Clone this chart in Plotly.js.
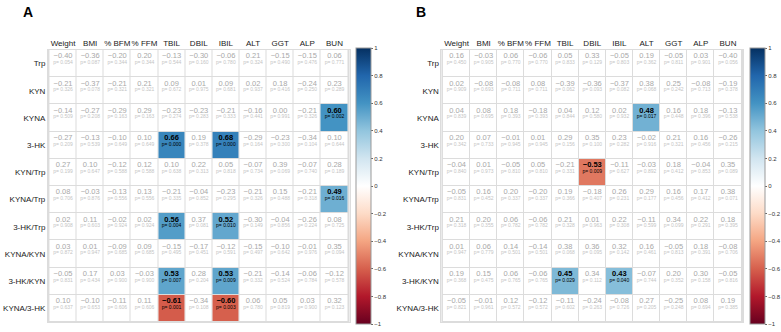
<!DOCTYPE html>
<html><head><meta charset="utf-8">
<script src="https://cdn.plot.ly/plotly-3.0.1.min.js"></script>
<style>html,body{margin:0;padding:0;background:#fff}#chart{width:781px;height:332px}</style>
</head><body><div id="chart"></div><script>
const columns = ['Weight','BMI','% BFM','% FFM','TBIL','DBIL','IBIL','ALT','GGT','ALP','BUN'];
const rows = ['Trp','KYN','KYNA','3-HK','KYN/Trp','KYNA/Trp','3-HK/Trp','KYNA/KYN','3-HK/KYN','KYNA/3-HK'];

const rA = [
 [-0.40,-0.36,-0.20,0.20,-0.13,-0.30,-0.06,0.21,-0.15,-0.15,0.06],
 [-0.21,-0.37,-0.21,0.21,0.09,0.01,0.09,0.02,0.18,-0.24,0.23],
 [-0.14,-0.27,-0.29,0.29,-0.23,-0.23,-0.21,-0.16,0.00,-0.21,0.60],
 [-0.27,-0.13,-0.10,0.10,0.66,0.19,0.68,-0.29,-0.23,-0.34,0.10],
 [0.27,0.10,-0.12,0.12,0.10,0.22,0.05,-0.07,0.39,-0.07,0.28],
 [0.08,-0.03,-0.13,0.13,-0.21,-0.04,-0.23,-0.21,0.15,-0.21,0.49],
 [0.02,0.11,-0.02,0.02,0.56,0.37,0.52,-0.30,-0.04,-0.26,0.08],
 [0.03,0.01,-0.09,0.09,-0.15,-0.17,-0.12,-0.15,-0.10,-0.01,0.35],
 [-0.05,0.17,0.03,-0.03,0.53,0.28,0.53,-0.21,-0.14,-0.06,-0.12],
 [0.10,-0.10,-0.11,0.11,-0.61,-0.34,-0.60,0.06,0.05,0.03,0.32]
];
const pA = [
 [0.054,0.087,0.344,0.344,0.544,0.160,0.780,0.324,0.490,0.476,0.771],
 [0.326,0.078,0.321,0.321,0.672,0.975,0.681,0.937,0.416,0.250,0.289],
 [0.509,0.208,0.163,0.163,0.274,0.283,0.333,0.441,0.991,0.326,0.002],
 [0.209,0.539,0.649,0.649,0.000,0.378,0.000,0.164,0.300,0.104,0.644],
 [0.199,0.647,0.588,0.588,0.638,0.313,0.818,0.734,0.069,0.740,0.189],
 [0.706,0.876,0.556,0.556,0.335,0.852,0.295,0.326,0.488,0.318,0.016],
 [0.908,0.603,0.924,0.924,0.004,0.081,0.010,0.149,0.856,0.224,0.725],
 [0.872,0.947,0.685,0.685,0.495,0.451,0.591,0.497,0.642,0.976,0.094],
 [0.831,0.434,0.900,0.900,0.007,0.204,0.009,0.332,0.524,0.784,0.578],
 [0.637,0.653,0.606,0.606,0.001,0.108,0.003,0.780,0.819,0.900,0.123]
];
const rB = [
 [0.16,-0.03,0.06,-0.06,0.05,0.33,-0.05,0.19,-0.05,0.03,-0.40],
 [0.02,-0.08,-0.08,0.08,-0.39,-0.36,-0.37,0.38,0.25,-0.08,-0.19],
 [0.04,0.08,0.18,-0.18,0.04,0.12,0.02,0.48,0.16,0.18,-0.13],
 [0.20,0.07,-0.01,0.01,0.29,0.35,0.23,-0.02,0.21,0.16,-0.26],
 [-0.04,0.01,-0.05,0.05,-0.21,-0.53,-0.11,-0.03,0.18,-0.04,0.35],
 [-0.05,0.16,0.20,-0.20,0.19,-0.18,0.26,0.29,0.16,0.17,0.38],
 [0.21,0.20,0.06,-0.06,0.21,0.01,0.22,-0.11,0.34,0.22,0.18],
 [0.01,0.06,0.14,-0.14,0.38,0.36,0.32,0.16,-0.05,0.18,-0.08],
 [0.19,0.15,0.06,-0.06,0.45,0.34,0.43,-0.07,0.20,0.30,-0.05],
 [-0.05,-0.01,0.12,-0.12,-0.11,-0.24,-0.08,0.27,-0.25,0.08,0.19]
];
const pB = [
 [0.450,0.905,0.770,0.770,0.833,0.129,0.803,0.362,0.811,0.901,0.056],
 [0.909,0.693,0.711,0.711,0.062,0.093,0.082,0.068,0.242,0.713,0.378],
 [0.839,0.695,0.393,0.393,0.844,0.580,0.932,0.017,0.448,0.396,0.538],
 [0.342,0.733,0.945,0.945,0.156,0.100,0.282,0.916,0.321,0.456,0.215],
 [0.840,0.973,0.810,0.810,0.331,0.009,0.627,0.892,0.412,0.853,0.089],
 [0.831,0.452,0.337,0.337,0.366,0.407,0.231,0.177,0.456,0.412,0.071],
 [0.318,0.355,0.782,0.782,0.328,0.963,0.308,0.599,0.099,0.291,0.395],
 [0.947,0.779,0.501,0.501,0.068,0.095,0.142,0.461,0.813,0.391,0.706],
 [0.368,0.475,0.765,0.765,0.029,0.112,0.040,0.744,0.352,0.158,0.816],
 [0.821,0.961,0.572,0.572,0.602,0.263,0.726,0.205,0.248,0.694,0.385]
];
const colorbarTicks = [-1,-0.8,-0.6,-0.4,-0.2,0,0.2,0.4,0.6,0.8,1];
const alpha = 0.05;

const FONT = 'Liberation Sans, Arial, Helvetica, sans-serif';
const rdbu = ['#67001F','#B2182B','#D6604D','#F4A582','#FDDBC7','#FFFFFF','#D1E5F0','#92C5DE','#4393C3','#2166AC','#053061']
  .map((c,i,a)=>[i/(a.length-1), c]);

function fmtR(v){ const s = Math.abs(v).toFixed(2); return (v < 0 ? '\u2212' : '') + s; }

function panelTraces(r, p, xa, ya, yt, cax){
  const traces = [];
  traces.push({type:'heatmap', x: columns, y: rows, z: rows.map(()=>columns.map(()=>0)),
    colorscale:[[0,'#ffffff'],[1,'#ffffff']], showscale:false, xgap:1, ygap:1,
    xaxis:xa, yaxis:ya, hoverinfo:'skip'});
  traces.push({type:'heatmap', x: columns, y: rows,
    z: r.map((row,i)=>row.map((v,j)=> p[i][j] < alpha ? v : null)),
    coloraxis: cax, xgap:1, ygap:1, xaxis:xa, yaxis:ya, hoverongaps:false});
  const xs=[], ys=[], rt=[], pt=[], rc=[], pc=[];
  rows.forEach((rn,i)=>columns.forEach((cn,j)=>{
    const sig = p[i][j] < alpha;
    xs.push(cn); ys.push(i);
    rt.push(sig ? '<b>'+fmtR(r[i][j])+'</b>' : fmtR(r[i][j]));
    pt.push('p= '+p[i][j].toFixed(3));
    rc.push(sig ? '#000000' : '#a8a8a8');
    pc.push(sig ? '#000000' : '#c4c4c4');
  }));
  traces.push({type:'scatter', mode:'text', x:xs, y:ys, text:rt, textposition:'top center',
    textfont:{family:FONT, size:7.5, color:rc}, xaxis:xa, yaxis:yt, hoverinfo:'skip', showlegend:false});
  traces.push({type:'scatter', mode:'text', x:xs, y:ys, text:pt, textposition:'bottom center',
    textfont:{family:FONT, size:5, color:pc}, xaxis:xa, yaxis:yt, hoverinfo:'skip', showlegend:false});
  return traces;
}

const data = [].concat(panelTraces(rA,pA,'x','y','y3','coloraxis'), panelTraces(rB,pB,'x2','y2','y4','coloraxis2'));

const W=781, H=332;
const yDom = [10/H, 282/H];
const textShift = 0.12;
function xAx(dom, anchor){ return {domain:dom, anchor:anchor, side:'top', type:'category', categoryorder:'array', categoryarray:columns,
  showgrid:false, zeroline:false, showline:true, mirror:true, linecolor:'#dcdcdc', linewidth:1, ticks:'', tickangle:0,
  tickfont:{family:FONT, size:8, color:'#1a1a1a'}, fixedrange:true}; }
function yAx(anchor){ return {domain:yDom, anchor:anchor, type:'category', categoryorder:'array', categoryarray:rows, autorange:'reversed',
  showgrid:false, zeroline:false, showline:true, mirror:true, linecolor:'#dcdcdc', linewidth:1, ticks:'',
  tickfont:{family:FONT, size:8, color:'#1a1a1a'}, fixedrange:true}; }
function yText(over, anchor){ return {overlaying:over, anchor:anchor, domain:yDom, type:'linear',
  range:[rows.length-0.5+textShift, -0.5+textShift], visible:false, showgrid:false, zeroline:false, fixedrange:true}; }
function cbar(xpx){ return {x:xpx/W, xanchor:'left', xref:'paper', y:(yDom[0]+yDom[1])/2, yanchor:'middle', len:0.83, lenmode:'fraction',
  thickness:15, thicknessmode:'pixels', outlinewidth:1, outlinecolor:'#999', tickvals:colorbarTicks,
  ticks:'outside', ticklen:2, tickcolor:'#666', tickfont:{family:FONT, size:6, color:'#333'}, xpad:0, ypad:0}; }

const layout = {
  width:W, height:H, margin:{l:0,r:0,t:0,b:0}, paper_bgcolor:'#ffffff', plot_bgcolor:'#dcdcdc',
  showlegend:false, font:{family:FONT},
  xaxis: xAx([48/W, 350/W], 'y'), yaxis: yAx('x'),
  xaxis2: xAx([442/W, 744/W], 'y2'), yaxis2: yAx('x2'),
  yaxis3: yText('y','x'), yaxis4: yText('y2','x2'),
  coloraxis:{cmin:-1, cmax:1, colorscale:rdbu, colorbar:cbar(356)},
  coloraxis2:{cmin:-1, cmax:1, colorscale:rdbu, colorbar:cbar(750)},
  annotations:[
    {text:'<b>A</b>', x:21/W, y:1-12/H, xref:'paper', yref:'paper', xanchor:'left', yanchor:'middle', showarrow:false, font:{family:FONT, size:14, color:'#000'}},
    {text:'<b>B</b>', x:415/W, y:1-12/H, xref:'paper', yref:'paper', xanchor:'left', yanchor:'middle', showarrow:false, font:{family:FONT, size:14, color:'#000'}}
  ]
};
Plotly.newPlot('chart', data, layout, {displayModeBar:false, staticPlot:true});
</script></body></html>
